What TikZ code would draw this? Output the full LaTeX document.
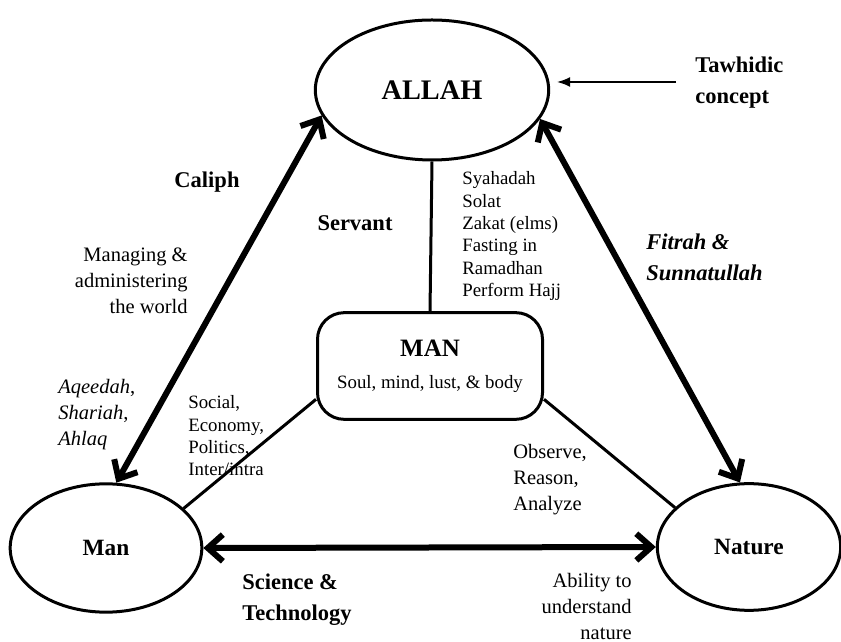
\documentclass[tikz,border=0pt]{standalone}
\usepackage{fontspec}
\setmainfont{Liberation Serif}
\usepackage{tikz}
\usetikzlibrary{shapes.geometric, arrows.meta, positioning}

\tikzset{
  oval/.style={ellipse, draw, line width=1.8pt, inner sep=0pt,
    font=\fontsize{14}{16}\selectfont\bfseries},
  manbox/.style={rectangle, rounded corners=16pt, draw, line width=1.8pt,
    minimum width=135pt, minimum height=64pt, align=center},
  dblarrow/.style={{Straight Barb[length=9pt,width=16pt]}-{Straight Barb[length=9pt,width=16pt]},
    line width=3.6pt},
  link/.style={line width=1.8pt},
  pointer/.style={-{Latex[length=8pt,width=6pt]}, line width=1.2pt},
  note/.style={inner sep=0pt, font=\fontsize{12.3}{15.6}\selectfont},
  smallnote/.style={inner sep=0pt, font=\fontsize{11.3}{13.4}\selectfont},
  boldnote/.style={inner sep=0pt, font=\fontsize{13.5}{18.6}\selectfont\bfseries},
}

\begin{document}
\begin{tikzpicture}[x=0.6pt, y=-0.6pt]
  \useasboundingbox (0,0) rectangle (841,642);

  % Main circles
  \node[oval, minimum width=140pt, minimum height=84pt,
    font=\fontsize{17}{20}\selectfont\bfseries] (allah) at (432,90) {ALLAH};
  \node[oval, minimum width=115pt, minimum height=77pt] (man) at (106,548) {Man};
  \node[oval, minimum width=110pt, minimum height=76pt] (nature) at (749,547) {Nature};
  \node[manbox] (core) at (430,366)
    {{\fontsize{15}{18}\selectfont\bfseries MAN}\\[7pt]{\fontsize{11.3}{13}\selectfont Soul, mind, lust, \& body}};

  % Relations
  \draw[dblarrow] (man.81) -- (allah.193);
  \draw[dblarrow] (allah.345) -- (nature.98);
  \draw[dblarrow] (man.east) -- (nature.west);
  \draw[link] (core.north) -- (allah.south);
  \draw[link] ([yshift=-20pt]core.west) -- (man.27);
  \draw[link] ([yshift=-20pt]core.east) -- (nature.152);

  % Tawhidic
  \node[boldnote, align=left, anchor=west] (tawhidic) at (695,83) {Tawhidic\\concept};
  \coordinate (tawtail) at (676,82);
  \draw[pointer, shorten >=4pt] (tawtail) -- (allah.east |- tawtail);

  % Labels
  \node[boldnote] (caliph) at (207,182) {Caliph};
  \node[note, align=right, anchor=east] (managing) at (188,281)
    {Managing \&\\administering\\the world};
  \node[note, align=left, anchor=west] (aqeedah) at (58,415)
    {\textit{Aqeedah},\\\textit{Shariah},\\\textit{Ahlaq}};
  \node[boldnote] (servant) at (355,223) {Servant};
  \node[smallnote, align=left, anchor=west] (rites) at (462,236)
    {Syahadah\\Solat\\Zakat (elms)\\Fasting in\\Ramadhan\\Perform Hajj};
  \node[boldnote, align=left, anchor=west] (fitrah) at (646,257)
    {\textit{Fitrah \&}\\\textit{Sunnatullah}};
  \node[smallnote, align=left, anchor=west] (social) at (188,436)
    {Social,\\Economy,\\Politics,\\Inter/intra};
  \node[note, align=left, anchor=west] (observe) at (513,480)
    {Observe,\\Reason,\\Analyze};
  \node[boldnote, align=left, anchor=west] (science) at (242,600)
    {Science \&\\Technology};
  \node[note, align=right, anchor=east] (ability) at (632,606)
    {Ability to\\understand\\nature};
\end{tikzpicture}
\end{document}
